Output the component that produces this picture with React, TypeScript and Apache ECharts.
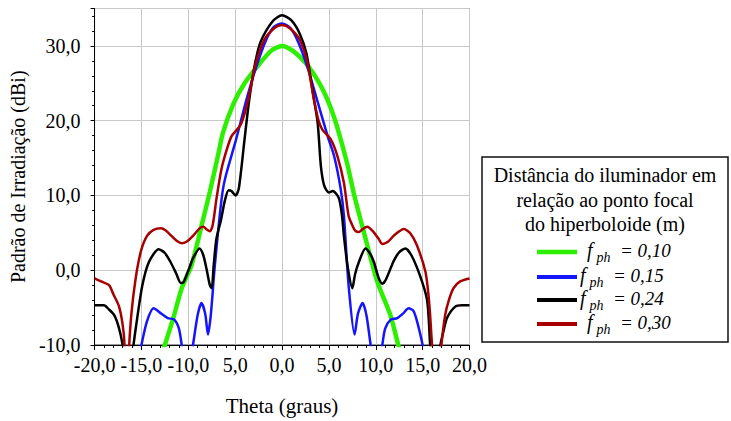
import React, { useEffect, useRef } from 'react';
import * as echarts from 'echarts';

const FONT = '"Liberation Serif", "Times New Roman", Times, serif';

const xTickValues = [-20, -15, -10, -5, 0, 5, 10, 15, 20];
const xTickLabels = ['-20,0', '-15,0', '-10,0', '5,0', '0,0', '5,0', '10,0', '15,0', '20,0'];
const yTickValues = [-10, 0, 10, 20, 30];
const yTickLabels = ['-10,0', '0,0', '10,0', '20,0', '30,0'];

const seriesNames = ['fph = 0,10', 'fph = 0,15', 'fph = 0,24', 'fph = 0,30'];
const seriesValuesText = ['= 0,10', '= 0,15', '= 0,24', '= 0,30'];
const seriesColors = ['#2cf000', '#1414ff', '#000000', '#a80000'];

// f_ph = 0,10
const thetaA = [-13.2, -12.5, -11.6, -10.7, -9.65, -8.4, -7.7, -6.8, -6.3, -5.2, -4.0, -2.6, -1.2, 0, 1.2, 2.6, 3.9, 4.85, 5.6, 6.26, 7.0, 7.67, 8.73, 10.15, 11.56, 12.4, 13.1];
const valuesA = [-13, -10, -6.4, -2.4, 0.7, 6.9, 10.5, 15.5, 18.4, 22.2, 25.0, 27.3, 29.3, 30.0, 29.3, 27.6, 25.2, 22.8, 20.3, 17.5, 14.0, 10.2, 5.1, -1.5, -6.0, -10, -13];

// f_ph = 0,15
const thetaB = [-15.6, -15.0, -14.4, -13.7, -12.9, -12.2, -11.5, -11.0, -10.7, -10.2, -9.9, -9.5, -9.0, -8.6, -8.2, -7.9, -7.6, -7.2, -6.65, -6.3, -5.9, -4.9, -3.8, -2.8, -1.8, -0.9, 0, 0.9, 1.8, 2.8, 3.8, 4.9, 5.55, 6.26, 6.6, 7.1, 7.74, 8.1, 8.6, 9.0, 9.4, 9.8, 10.3, 10.7, 11.0, 11.6, 12.3, 12.9, 13.5, 14.0, 14.4, 15.0, 15.6];
const valuesB = [-14, -10, -6.8, -5.1, -5.8, -6.4, -6.6, -7.8, -10, -14, -13, -10, -6, -4.4, -5.8, -8.6, -6, 0.2, 7.3, 10.85, 13.1, 17.5, 22.8, 27.0, 30.5, 32.5, 33.0, 32.4, 30.3, 26.8, 22.5, 17.8, 15.3, 10.85, 7.3, -2, -8.6, -5.8, -4.4, -6, -9.5, -13, -14, -10, -7.8, -6.6, -6.4, -5.8, -5.1, -5.4, -6.8, -10, -14];

// f_ph = 0,24
const thetaC = [-20, -19, -18.5, -17.9, -17.4, -17.0, -16.8, -16.45, -16.05, -15.85, -15.45, -14.9, -14.2, -13.15, -12.5, -11.9, -11.3, -10.8, -10.5, -10.2, -9.8, -9.5, -8.8, -8.4, -8.06, -7.7, -7.5, -7.3, -7.0, -6.5, -6.1, -5.7, -5.4, -4.95, -4.6, -4.0, -3.5, -2.9, -2.3, -1.0, 0, 1.0, 1.9, 2.6, 3.25, 3.8, 4.14, 4.5, 5.0, 5.4, 5.8, 6.1, 6.4, 6.6, 7.0, 7.5, 7.8, 8.2, 8.9, 9.4, 9.8, 10.3, 10.7, 11.1, 11.9, 12.5, 13.15, 13.8, 14.7, 15.45, 15.65, 15.8, 16.0, 16.4, 16.8, 16.9, 17.2, 17.6, 18.45, 19.2, 20];
const valuesC = [-4.7, -4.7, -5.2, -6.0, -7.7, -10, -12, -20, -12, -10, -6.4, -2.0, 1.1, 2.8, 2.3, 1.1, -0.4, -1.7, -1.6, -0.7, 0.6, 1.6, 2.9, 2.0, 0.2, -2.0, -2.4, 0.5, 4.2, 6.8, 9.3, 10.7, 10.6, 10.0, 11.0, 17.5, 22.8, 27.5, 30.5, 33.3, 34.1, 33.4, 31.6, 29.0, 24.1, 19.7, 14.0, 11.3, 10.4, 10.6, 10.2, 9.5, 7.3, 4.6, 0.5, -2.4, -0.5, 1.1, 2.9, 2.2, 1.1, -1.0, -1.8, -1.2, 1.2, 2.4, 2.9, 2.0, -0.66, -3.8, -6.5, -10, -12, -20, -12, -10, -8.3, -6.4, -4.9, -4.7, -4.7];

// f_ph = 0,30
const thetaD = [-20, -19.3, -18.45, -18.0, -17.4, -17.0, -16.8, -16.55, -16.3, -16.15, -16.0, -15.8, -15.45, -15.0, -14.4, -13.7, -12.9, -12.4, -11.8, -11.2, -10.7, -10.2, -9.5, -8.8, -8.4, -8.0, -7.7, -7.4, -7.0, -6.5, -6.1, -5.4, -4.8, -4.35, -3.6, -2.9, -1.9, -0.8, 0, 0.8, 1.9, 2.7, 3.4, 3.9, 4.3, 5.2, 5.9, 6.6, 7.1, 7.5, 7.8, 8.2, 8.6, 9.1, 9.7, 10.3, 10.7, 11.3, 12.0, 13.0, 13.7, 14.4, 15.3, 15.6, 15.8, 16.0, 16.2, 16.5, 16.8, 17.0, 17.4, 17.8, 18.3, 19.0, 20];
const valuesD = [-1.1, -1.5, -2.0, -3.2, -4.8, -7.3, -10, -20, -10, -7, -5.0, -2.8, 0.2, 2.8, 4.6, 5.4, 5.6, 5.3, 4.6, 3.9, 3.6, 3.8, 4.6, 5.6, 5.8, 5.4, 5.2, 6.0, 9.5, 13.3, 15.3, 17.9, 18.8, 19.6, 22.8, 27.2, 30.8, 32.4, 32.8, 32.4, 30.8, 27.8, 22.8, 20.0, 18.8, 17.5, 15.3, 11.7, 7.3, 6.0, 5.3, 5.1, 5.5, 5.8, 5.2, 4.2, 3.5, 3.8, 4.7, 5.5, 4.9, 3.3, -0.2, -3, -6, -10, -13, -20, -13, -10, -6, -4.0, -2.4, -1.5, -1.1];

const thetas = [thetaA, thetaB, thetaC, thetaD];
const values = [valuesA, valuesB, valuesC, valuesD];
const lineWidths = [4.5, 2.5, 2.5, 2.5];

const legendTitle = ['Distância do iluminador em', 'relação ao ponto focal', 'do hiperboloide (m)'];

export default function App() {
  const ref = useRef<HTMLDivElement>(null);
  useEffect(() => {
    if (!ref.current) return;
    const chart = echarts.init(ref.current, null, { renderer: 'svg' });

    const series = seriesNames.map((name, i) => ({
      name,
      type: 'line',
      data: thetas[i].map((t, j) => [t, values[i][j]]),
      showSymbol: false,
      smooth: 0.25,
      clip: true,
      lineStyle: { color: seriesColors[i], width: lineWidths[i] },
      itemStyle: { color: seriesColors[i] },
      z: 2 + i,
    }));

    const rowY = [252, 277, 300, 324];
    const fX = [587, 580, 580, 587];
    const txt = (x: number, y: number, text: string, size: number, italic: boolean, align = 'left') => ({
      type: 'text',
      x,
      y,
      style: {
        text,
        fontFamily: FONT,
        fontSize: size,
        fontStyle: italic ? 'italic' : 'normal',
        fill: '#000',
        align,
        verticalAlign: 'middle',
      },
    });
    const legendEls: any[] = [
      {
        type: 'rect',
        shape: { x: 482, y: 157, width: 246, height: 185 },
        style: { fill: '#fff', stroke: '#111', lineWidth: 1.5 },
      },
      ...legendTitle.map((t, k) => txt(605, 175 + k * 24.5, t, 20, false, 'center')),
    ];
    seriesNames.forEach((_, i) => {
      legendEls.push({
        type: 'line',
        shape: { x1: 537, y1: rowY[i], x2: 577, y2: rowY[i] },
        style: { stroke: seriesColors[i], lineWidth: i === 0 ? 4.5 : 4 },
      });
      legendEls.push(txt(fX[i], rowY[i] - 2, 'f', 20, true));
      legendEls.push(txt(fX[i] + 9.5, rowY[i] + 5, 'ph', 14, true));
      legendEls.push(txt(fX[i] + 33, rowY[i] - 2, seriesValuesText[i], 19, true));
    });

    chart.setOption({
      animation: false,
      backgroundColor: '#fff',
      textStyle: { fontFamily: FONT },
      grid: {
        left: 92,
        right: 261.5,
        top: 8.5,
        bottom: 74,
        show: true,
        borderColor: '#333',
        borderWidth: 1,
        backgroundColor: 'transparent',
      },
      xAxis: {
        type: 'value',
        min: -20,
        max: 20,
        interval: 5,
        name: 'Theta (graus)',
        nameLocation: 'middle',
        nameGap: 50,
        nameTextStyle: { fontFamily: FONT, fontSize: 21, color: '#000' },
        axisLine: { onZero: false, lineStyle: { color: '#000', width: 1 } },
        axisTick: { show: true, inside: false, length: 5, lineStyle: { color: '#000' } },
        minorTick: { show: true, splitNumber: 5, length: 3, lineStyle: { color: '#000' } },
        splitLine: { show: true, lineStyle: { color: '#c8c8c8', width: 1 } },
        axisLabel: {
          fontFamily: FONT,
          fontSize: 20,
          color: '#000',
          margin: 10,
          formatter: (v: number) => {
            const idx = xTickValues.indexOf(Math.round(v));
            return idx >= 0 ? xTickLabels[idx] : '';
          },
        },
      },
      yAxis: {
        type: 'value',
        min: -10,
        max: 35,
        interval: 10,
        name: 'Padrão de Irradiação (dBi)',
        nameLocation: 'middle',
        nameGap: 63,
        nameRotate: 90,
        nameTextStyle: { fontFamily: FONT, fontSize: 20, color: '#000' },
        axisLine: { onZero: false, lineStyle: { color: '#000', width: 1 } },
        axisTick: { show: true, inside: false, length: 4, lineStyle: { color: '#000' } },
        minorTick: { show: true, splitNumber: 5, length: 2.5, lineStyle: { color: '#000' } },
        splitLine: { show: true, lineStyle: { color: '#c8c8c8', width: 1 } },
        axisLabel: {
          fontFamily: FONT,
          fontSize: 20,
          color: '#000',
          margin: 14,
          showMaxLabel: false,
          formatter: (v: number) => {
            const idx = yTickValues.indexOf(Math.round(v));
            return idx >= 0 ? yTickLabels[idx] : '';
          },
        },
      },
      series,
      graphic: { elements: legendEls },
    });
    return () => chart.dispose();
  }, []);
  return (
    <div
      ref={ref}
      style={{ position: 'fixed', left: 0, top: 0, width: 731, height: 421, background: '#fff' }}
    />
  );
}
